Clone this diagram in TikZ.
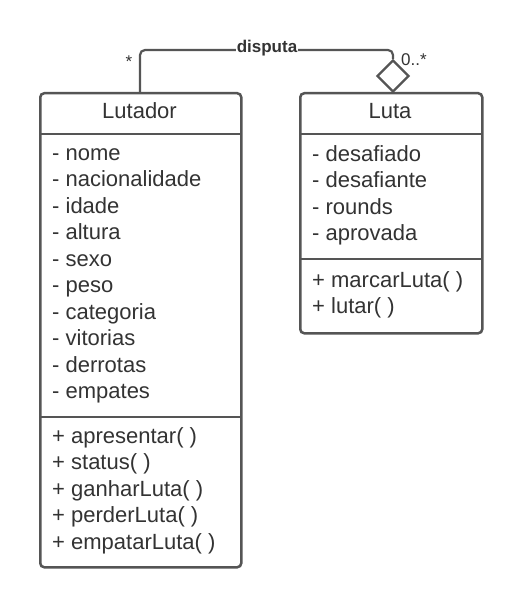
\documentclass[tikz,border=0pt]{standalone}
\usepackage{fontspec}
\setmainfont{Liberation Sans}
\usetikzlibrary{shapes.geometric}
\definecolor{txt}{HTML}{333333}
\definecolor{ln}{HTML}{555555}
\tikzset{
  classbox/.style={draw=ln, line width=2.5pt, rounded corners=4pt, minimum width=#1, inner sep=0pt, anchor=north west},
  sep/.style={draw=ln, line width=2.5pt},
  member/.style={anchor=base west, inner sep=0pt, text=txt, font=\fontsize{22}{26}\selectfont},
  title/.style={anchor=base, inner sep=0pt, text=txt, font=\fontsize{22}{26}\selectfont},
  conn/.style={draw=ln, line width=2.2pt, rounded corners=5pt},
  small/.style={inner sep=0pt, text=txt, font=\fontsize{17}{20}\selectfont},
  agg/.style={diamond, draw=ln, line width=2.2pt, fill=white, minimum width=32pt, minimum height=32pt, inner sep=0pt}
}
\begin{document}
\begin{tikzpicture}[x=1pt,y=-1pt]
\useasboundingbox[fill=white] (0,0) rectangle (520,607);
% Lutador
\node[classbox=201pt, minimum height=474pt] (lutador) at (39,92) {};
\draw[sep] (39,134) -- (240,134);
\draw[sep] (39,417) -- (240,417);
\node[title] (lutTitle) at (139.5,118.3) {Lutador};
\foreach \t [count=\i from 0] in {nome,nacionalidade,idade,altura,sexo,peso,categoria,vitorias,derrotas,empates}
  \node[member] (la\i) at (52,160+26.5*\i) {- \t};
\foreach \t [count=\i from 0] in {apresentar( ),status( ),ganharLuta( ),perderLuta( ),empatarLuta( )}
  \node[member] (lm\i) at (52,443+26.5*\i) {+ \t};
% Luta
\node[classbox=182pt, minimum height=240pt] (luta) at (299,92) {};
\draw[sep] (299,134) -- (481,134);
\draw[sep] (299,259) -- (481,259);
\node[title] (lutaTitle) at (390,118.3) {Luta};
\foreach \t [count=\i from 0] in {desafiado,desafiante,rounds,aprovada}
  \node[member] (ta\i) at (312,161+26.5*\i) {- \t};
\foreach \t [count=\i from 0] in {marcarLuta( ),lutar( )}
  \node[member] (tm\i) at (312,287+26.3*\i) {+ \t};
% association
\node[agg] (diam) at (393,76) {};
\draw[conn] (lutador.north -| 140,0) -- (140,50) -| (diam.north);
\node[small, font=\fontsize{17}{20}\selectfont\bfseries, fill=white, inner xsep=1pt, inner ysep=2pt] (lbl) at (267,48) {disputa};
\node[small] (m1) at (129,62) {*};
\node[small, anchor=west] (m2) at (401,60) {0..*};
\end{tikzpicture}
\end{document}
